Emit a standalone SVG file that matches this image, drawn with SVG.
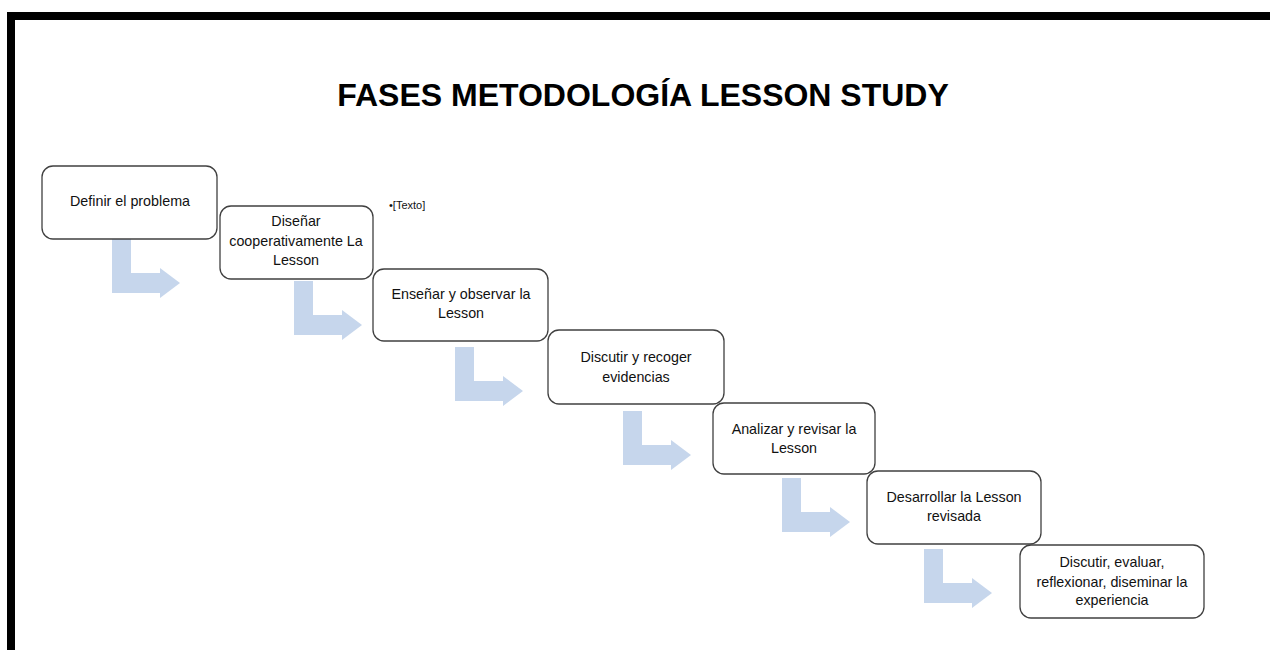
<svg xmlns="http://www.w3.org/2000/svg" width="1270" height="650" viewBox="0 0 1270 650">
<style>
.box{fill:#fff;stroke:#404040;stroke-width:1.3}
.lbl{font-family:"Liberation Sans",Arial,sans-serif;font-size:14.3px;fill:#111;text-anchor:middle}
.arr{fill:#C6D6EC}
.title{font-family:"Liberation Sans",Arial,sans-serif;font-size:32px;font-weight:bold;fill:#000;text-anchor:middle}
</style>
<defs>
<path id="bent" d="M0,0 H19 V34 H48 V29 L68,44 L48,59 V54 H0 Z"/>
</defs>
<rect x="0" y="0" width="1270" height="650" fill="#fff"/>
<path d="M7,650 V12 H1270 V20 H15 V650 Z" fill="#000"/>
<text class="title" x="643" y="106">FASES METODOLOGÍA LESSON STUDY</text>
<g id="connectors">
<use href="#bent" class="arr" x="112" y="239"/>
<use href="#bent" class="arr" x="294" y="281"/>
<use href="#bent" class="arr" x="455" y="347"/>
<use href="#bent" class="arr" x="623" y="411"/>
<use href="#bent" class="arr" x="782" y="478"/>
<use href="#bent" class="arr" x="924" y="549"/>
</g>
<g id="n1"><rect class="box" x="42" y="166" width="175" height="73" rx="11"/>
<text class="lbl" x="130" y="206">Definir el problema</text></g>
<g id="n2"><rect class="box" x="220" y="206" width="153" height="73" rx="11"/>
<text class="lbl" x="296" y="226">Diseñar</text>
<text class="lbl" x="296" y="246">cooperativamente La</text>
<text class="lbl" x="296" y="265">Lesson</text></g>
<g id="n3"><rect class="box" x="373" y="269" width="175" height="72" rx="11"/>
<text class="lbl" x="461" y="299">Enseñar y observar la</text>
<text class="lbl" x="461" y="318">Lesson</text></g>
<g id="n4"><rect class="box" x="548" y="330" width="176" height="74" rx="11"/>
<text class="lbl" x="636" y="362">Discutir y recoger</text>
<text class="lbl" x="636" y="382">evidencias</text></g>
<g id="n5"><rect class="box" x="713" y="403" width="162" height="71" rx="11"/>
<text class="lbl" x="794" y="434">Analizar y revisar la</text>
<text class="lbl" x="794" y="453">Lesson</text></g>
<g id="n6"><rect class="box" x="867" y="471" width="174" height="73" rx="11"/>
<text class="lbl" x="954" y="502">Desarrollar la Lesson</text>
<text class="lbl" x="954" y="521">revisada</text></g>
<g id="n7"><rect class="box" x="1020" y="545" width="184" height="73" rx="11"/>
<text class="lbl" x="1112" y="567">Discutir, evaluar,</text>
<text class="lbl" x="1112" y="587">reflexionar, diseminar la</text>
<text class="lbl" x="1112" y="605">experiencia</text></g>
<g id="texto"><text x="389" y="209" font-family="'Liberation Sans',Arial,sans-serif" font-size="11" fill="#111">•[Texto]</text></g>
</svg>
